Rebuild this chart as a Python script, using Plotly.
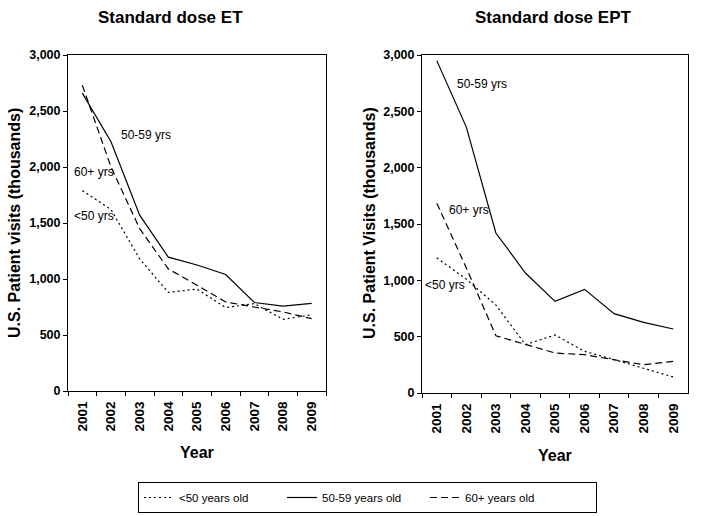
import plotly.graph_objects as go

W, H = 702, 516

years = ["2001", "2002", "2003", "2004", "2005", "2006", "2007", "2008", "2009"]

# Standard dose ET (thousands of visits)
et_under50 = [1790, 1620, 1180, 880, 910, 745, 780, 640, 680]
et_50_59 = [2660, 2225, 1570, 1195, 1125, 1040, 790, 757, 783]
et_60plus = [2730, 2000, 1450, 1090, 945, 795, 750, 706, 646]

# Standard dose EPT (thousands of visits)
ept_under50 = [1200, 1010, 780, 430, 515, 370, 296, 222, 142]
ept_50_59 = [2950, 2360, 1420, 1065, 813, 920, 704, 627, 568]
ept_60plus = [1685, 1110, 508, 430, 355, 340, 296, 251, 281]

series_names = ["<50 years old", "50-59 years old", "60+ years old"]
panel_titles = ["Standard dose ET", "Standard dose EPT"]
y_titles = ["U.S. Patient visits (thousands)", "U.S. Patient Visits (thousands)"]
x_title = "Year"
y_ticks = [0, 500, 1000, 1500, 2000, 2500, 3000]

FONT = "Liberation Sans, Arial, sans-serif"
dashes = ["2px,3px", "solid", "7px,4px"]
legend_widths = [98, 98, 126]

def px(x):
    return x / W

def py(y):
    return 1 - y / H

fig = go.Figure()

panels = [
    (et_under50, et_50_59, et_60plus, "x", "y"),
    (ept_under50, ept_50_59, ept_60plus, "x2", "y2"),
]
for pi, (a, b, c, xa, ya) in enumerate(panels):
    for si, vals in enumerate([a, b, c]):
        fig.add_trace(go.Scatter(
            x=years, y=vals, mode="lines", name=series_names[si],
            line=dict(color="black", width=1.2, dash=dashes[si]),
            xaxis=xa, yaxis=ya, showlegend=(pi == 0),
            legendwidth=legend_widths[si],
        ))

axis_common = dict(
    showline=True, linecolor="black", linewidth=1, mirror=True,
    ticks="outside", ticklen=4, tickcolor="black", showgrid=False,
    zeroline=False, automargin=False,
)
xcommon = dict(axis_common, type="category", tickson="boundaries",
               tickangle=-90, range=[-0.5, 8.5],
               tickfont=dict(family=FONT, size=13.5, color="black", weight="bold"),
               ticklabelstandoff=4)
ycommon = dict(axis_common, range=[0, 3000], tickvals=y_ticks,
               tickformat=",", ticklen=4,
               tickfont=dict(family=FONT, size=12.5, color="black", weight="bold"))

fig.update_layout(
    width=W, height=H,
    margin=dict(l=0, r=0, t=0, b=0),
    paper_bgcolor="white", plot_bgcolor="white",
    font=dict(family=FONT, color="black"),
    xaxis=dict(xcommon, domain=[px(68), px(326)], anchor="y"),
    yaxis=dict(ycommon, domain=[py(391), py(55)], anchor="x"),
    xaxis2=dict(xcommon, domain=[px(422), px(688)], anchor="y2"),
    yaxis2=dict(ycommon, domain=[py(393), py(55)], anchor="x2"),
    showlegend=True,
    legend=dict(
        orientation="h", x=px(138), y=py(482), xanchor="left", yanchor="top",
        bordercolor="black", borderwidth=1, bgcolor="white",
        font=dict(family=FONT, size=11.5, color="black"),
        entrywidthmode="pixels", itemwidth=30,
    ),
)

ann = []
# panel titles
for t, cx in zip(panel_titles, [170.5, 553]):
    ann.append(dict(text=t, x=px(cx), y=py(17), xref="paper", yref="paper",
                    showarrow=False, xanchor="center", yanchor="middle",
                    font=dict(family=FONT, size=17, color="black", weight="bold")))
# y axis titles
for t, cx in zip(y_titles, [14, 369]):
    ann.append(dict(text=t, x=px(cx), y=py(223), xref="paper", yref="paper",
                    showarrow=False, xanchor="center", yanchor="middle", textangle=-90,
                    font=dict(family=FONT, size=16, color="black", weight="bold")))
# x axis titles
for cx, cy in [(197, 452), (555, 455)]:
    ann.append(dict(text=x_title, x=px(cx), y=py(cy), xref="paper", yref="paper",
                    showarrow=False, xanchor="center", yanchor="middle",
                    font=dict(family=FONT, size=16, color="black", weight="bold")))
# series labels
labels = [
    ("50-59 yrs", 119, 135), ("60+ yrs", 72, 172), ("<50 yrs", 72, 216),
    ("50-59 yrs", 455, 84), ("60+ yrs", 447, 210), ("<50 yrs", 423, 285),
]
for t, lx, ly in labels:
    ann.append(dict(text=t, x=px(lx), y=py(ly), xref="paper", yref="paper",
                    showarrow=False, xanchor="left", yanchor="middle",
                    font=dict(family=FONT, size=12, color="black")))
fig.update_layout(annotations=ann)

fig.write_html("out.html", config={"displayModeBar": False},
               post_script="document.body.style.margin='0';")
